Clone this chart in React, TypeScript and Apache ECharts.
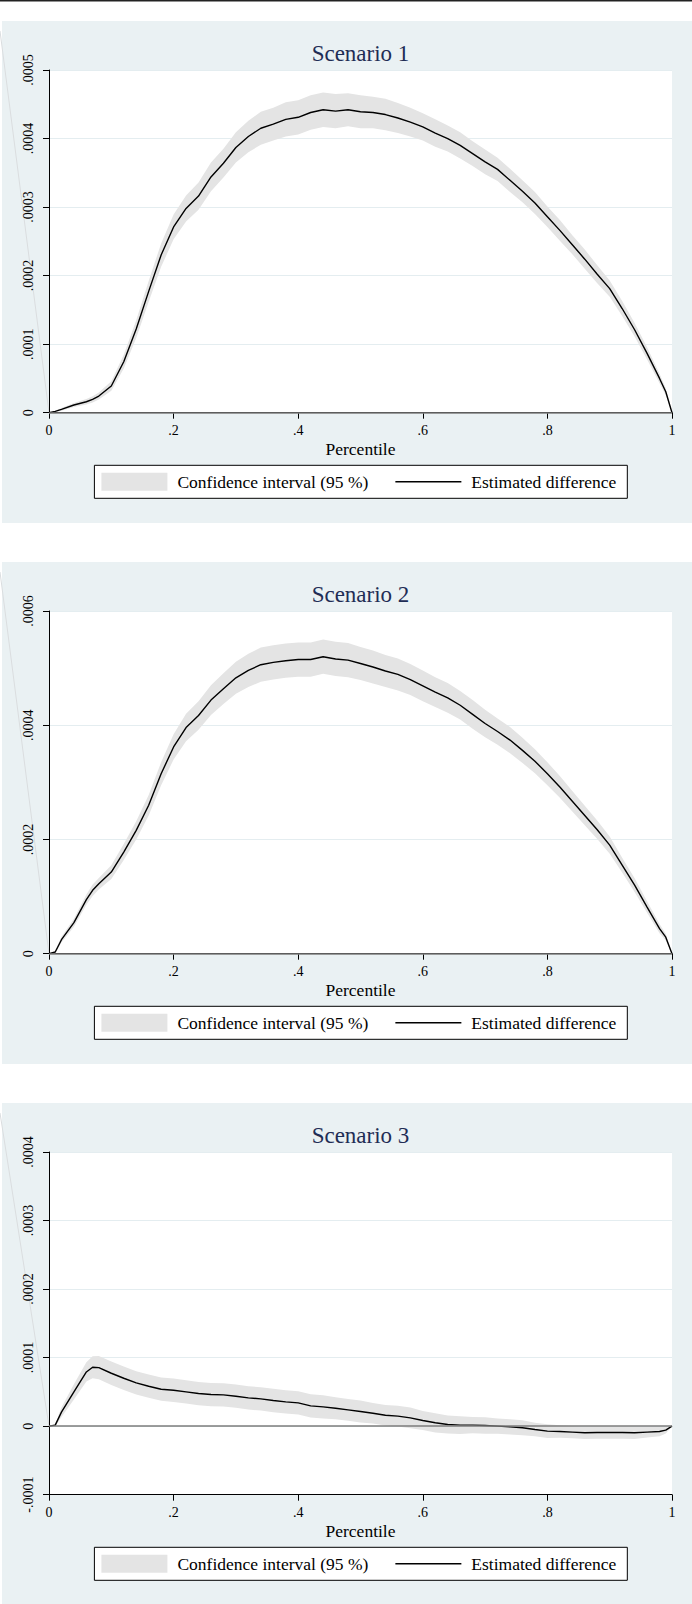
import React, { useEffect, useRef } from 'react';
import * as echarts from 'echarts';

// ---------- data ----------
const percentile = [
  0, 0.01, 0.02, 0.04, 0.06, 0.07, 0.08, 0.1, 0.12, 0.14, 0.16, 0.18, 0.2, 0.22, 0.24, 0.26, 0.28, 0.3,
  0.32, 0.34, 0.36, 0.38, 0.4, 0.42, 0.44, 0.46, 0.48, 0.5, 0.52, 0.54, 0.56, 0.58, 0.6, 0.62, 0.64,
  0.66, 0.68, 0.7, 0.72, 0.74, 0.76, 0.78, 0.8, 0.82, 0.84, 0.86, 0.88, 0.9, 0.92, 0.94, 0.96, 0.98,
  0.99, 1,
];

const scenario1Estimate = [
  0, 2e-6, 4.9e-6, 1.12e-5, 1.6e-5, 1.95e-5, 2.43e-5, 3.89e-5, 7.44e-5, 1.22e-4, 1.77e-4, 2.3e-4,
  2.71e-4, 2.98e-4, 3.16e-4, 3.44e-4, 3.64e-4, 3.87e-4, 4.03e-4, 4.15e-4, 4.21e-4, 4.28e-4, 4.31e-4,
  4.38e-4, 4.42e-4, 4.4e-4, 4.42e-4, 4.39e-4, 4.38e-4, 4.35e-4, 4.3e-4, 4.24e-4, 4.17e-4, 4.08e-4,
  4.0e-4, 3.9e-4, 3.78e-4, 3.66e-4, 3.55e-4, 3.39e-4, 3.23e-4, 3.06e-4, 2.86e-4, 2.66e-4, 2.45e-4,
  2.24e-4, 2.02e-4, 1.81e-4, 1.52e-4, 1.21e-4, 8.66e-5, 5.0e-5, 3.06e-5, 0,
];
const scenario1HalfWidth = [
  0, 1e-6, 2e-6, 3e-6, 4e-6, 4.5e-6, 5e-6, 7e-6, 1e-5, 1.3e-5, 1.5e-5, 1.7e-5, 1.8e-5, 1.9e-5, 2.0e-5,
  2.1e-5, 2.1e-5, 2.2e-5, 2.3e-5, 2.4e-5, 2.4e-5, 2.5e-5, 2.5e-5, 2.5e-5, 2.5e-5, 2.5e-5, 2.4e-5,
  2.4e-5, 2.3e-5, 2.3e-5, 2.2e-5, 2.1e-5, 2.0e-5, 2.0e-5, 1.9e-5, 1.9e-5, 1.8e-5, 1.8e-5, 1.7e-5,
  1.7e-5, 1.6e-5, 1.6e-5, 1.5e-5, 1.5e-5, 1.4e-5, 1.4e-5, 1.3e-5, 1.2e-5, 1.1e-5, 1.0e-5, 9e-6, 7e-6,
  5e-6, 0,
];

const scenario2Estimate = [
  0, 3e-6, 2.45e-5, 5.43e-5, 9.46e-5, 1.11e-4, 1.226e-4, 1.43e-4, 1.78e-4, 2.16e-4, 2.6e-4, 3.15e-4,
  3.62e-4, 3.96e-4, 4.17e-4, 4.44e-4, 4.64e-4, 4.83e-4, 4.96e-4, 5.06e-4, 5.1e-4, 5.13e-4, 5.15e-4,
  5.15e-4, 5.2e-4, 5.16e-4, 5.14e-4, 5.08e-4, 5.02e-4, 4.95e-4, 4.89e-4, 4.8e-4, 4.69e-4, 4.58e-4,
  4.48e-4, 4.35e-4, 4.19e-4, 4.03e-4, 3.89e-4, 3.74e-4, 3.56e-4, 3.37e-4, 3.15e-4, 2.92e-4, 2.67e-4,
  2.42e-4, 2.17e-4, 1.9e-4, 1.55e-4, 1.2e-4, 8.17e-5, 4.38e-5, 2.9e-5, 0,
];
const scenario2HalfWidth = [
  0, 2e-6, 5e-6, 7e-6, 9e-6, 1e-5, 1e-5, 1.2e-5, 1.4e-5, 1.6e-5, 1.8e-5, 2e-5, 2.2e-5, 2.4e-5, 2.5e-5,
  2.6e-5, 2.7e-5, 2.8e-5, 2.9e-5, 3e-5, 3e-5, 3e-5, 3e-5, 3e-5, 3e-5, 3e-5, 3e-5, 2.9e-5, 2.9e-5,
  2.8e-5, 2.8e-5, 2.7e-5, 2.7e-5, 2.6e-5, 2.6e-5, 2.5e-5, 2.5e-5, 2.4e-5, 2.3e-5, 2.3e-5, 2.2e-5,
  2.1e-5, 2.0e-5, 1.9e-5, 1.8e-5, 1.7e-5, 1.6e-5, 1.5e-5, 1.3e-5, 1.2e-5, 1e-5, 8e-6, 6e-6, 0,
];

const scenario3Estimate = [
  0, 1.5e-6, 2.04e-5, 5.0e-5, 7.91e-5, 8.59e-5, 8.54e-5, 7.72e-5, 6.99e-5, 6.31e-5, 5.83e-5, 5.39e-5,
  5.24e-5, 5.0e-5, 4.76e-5, 4.61e-5, 4.56e-5, 4.37e-5, 4.13e-5, 3.98e-5, 3.74e-5, 3.54e-5, 3.4e-5,
  2.96e-5, 2.82e-5, 2.62e-5, 2.38e-5, 2.14e-5, 1.89e-5, 1.6e-5, 1.46e-5, 1.21e-5, 8.3e-6, 4.9e-6,
  2.4e-6, 1.5e-6, 1.5e-6, 1.0e-6, 0, -1.0e-6, -2.4e-6, -4.9e-6, -7.3e-6, -7.8e-6, -8.7e-6, -9.7e-6,
  -9.2e-6, -9.2e-6, -9.2e-6, -9.7e-6, -8.7e-6, -7.8e-6, -5.8e-6, 0,
];
const scenario3HalfWidth = [
  0, 2e-6, 7e-6, 1.1e-5, 1.4e-5, 1.6e-5, 1.7e-5, 1.7e-5, 1.7e-5, 1.7e-5, 1.7e-5, 1.7e-5, 1.7e-5,
  1.7e-5, 1.7e-5, 1.7e-5, 1.7e-5, 1.7e-5, 1.7e-5, 1.7e-5, 1.7e-5, 1.7e-5, 1.7e-5, 1.7e-5, 1.7e-5,
  1.6e-5, 1.6e-5, 1.6e-5, 1.5e-5, 1.5e-5, 1.5e-5, 1.5e-5, 1.4e-5, 1.4e-5, 1.3e-5, 1.3e-5, 1.2e-5,
  1.2e-5, 1.1e-5, 1.1e-5, 1.1e-5, 1e-5, 1e-5, 9e-6, 9e-6, 9e-6, 9e-6, 9e-6, 9e-6, 9e-6, 8e-6, 7e-6,
  5e-6, 0,
];

const xTickLabels = ['0', '.2', '.4', '.6', '.8', '1'];
const scenario1YTickLabels = ['0', '.0001', '.0002', '.0003', '.0004', '.0005'];
const scenario2YTickLabels = ['0', '.0002', '.0004', '.0006'];
const scenario3YTickLabels = ['-.0001', '0', '.0001', '.0002', '.0003', '.0004'];

const panelTitles = ['Scenario 1', 'Scenario 2', 'Scenario 3'];
const ciName = 'Confidence interval (95 %)';
const estName = 'Estimated difference';
const xAxisTitle = 'Percentile';

// ---------- layout / style ----------
const W = 692;
const H = 1604;
const FONT = '"Liberation Serif", "Times New Roman", serif';
const PANEL_TOPS = [21, 562, 1103];
const PANEL_H = [502, 502, 501];
const GRID_LEFT = 49;
const GRID_RIGHT_X = 672;
const GRID_H = 342.7;
const BG = '#eaf1f3';
const BAND = '#e4e4e4';

const panels = [
  { est: scenario1Estimate, hw: scenario1HalfWidth, yLabels: scenario1YTickLabels, min: 0, max: 0.0005, interval: 0.0001 },
  { est: scenario2Estimate, hw: scenario2HalfWidth, yLabels: scenario2YTickLabels, min: 0, max: 0.0006, interval: 0.0002 },
  { est: scenario3Estimate, hw: scenario3HalfWidth, yLabels: scenario3YTickLabels, min: -0.0001, max: 0.0004, interval: 0.0001 },
];

function buildOption() {
  const grid: any[] = [];
  const xAxis: any[] = [];
  const yAxis: any[] = [];
  const series: any[] = [];
  const title: any[] = [];
  const legend: any[] = [];
  const graphics: any[] = [
    { type: 'rect', z: -10, shape: { x: 0, y: 0, width: W, height: 1.5 }, style: { fill: '#222' } },
  ];

  panels.forEach((pn, i) => {
    const pTop = PANEL_TOPS[i];
    const gTop = pTop + 49;
    const gBottom = gTop + GRID_H;
    const zeroY = gTop + GRID_H * (pn.max / (pn.max - pn.min));

    graphics.push({
      type: 'rect', z: -10,
      shape: { x: 2, y: pTop, width: W - 2, height: PANEL_H[i] },
      style: { fill: BG },
    });
    graphics.push({
      type: 'line', z: -9,
      shape: { x1: 0, y1: pTop + 10, x2: GRID_LEFT, y2: zeroY },
      style: { stroke: '#dadddf', lineWidth: 1 },
    });

    grid.push({
      left: GRID_LEFT, top: gTop, width: GRID_RIGHT_X - GRID_LEFT, height: GRID_H,
      show: true, backgroundColor: '#ffffff', borderWidth: 0, containLabel: false,
      outerBoundsMode: 'none',
    });

    xAxis.push({
      type: 'value', gridIndex: i, min: 0, max: 1, interval: 0.2,
      axisLine: { show: true, onZero: false, lineStyle: { color: '#000', width: 1 } },
      axisTick: { show: true, length: 6, lineStyle: { color: '#000' } },
      splitLine: { show: false },
      axisLabel: {
        margin: 11, fontFamily: FONT, fontSize: 14, color: '#000',
        formatter: (v: number) => xTickLabels[Math.round(v / 0.2)],
      },
      name: xAxisTitle, nameLocation: 'middle', nameGap: 27,
      nameTextStyle: { fontFamily: FONT, fontSize: 17.5, color: '#000' },
    });

    yAxis.push({
      type: 'value', gridIndex: i, min: pn.min, max: pn.max, interval: pn.interval,
      axisLine: { show: true, lineStyle: { color: '#000', width: 1 } },
      axisTick: { show: true, length: 6, lineStyle: { color: '#000' } },
      splitLine: { show: true, lineStyle: { color: '#e4edf0', width: 1 } },
      axisLabel: {
        rotate: 90, margin: 14, fontFamily: FONT, fontSize: 14, color: '#000',
        formatter: (v: number) => pn.yLabels[Math.round((v - pn.min) / pn.interval)],
      },
    });

    // confidence band: one polygon through the library's coordinate system
    series.push({
      type: 'custom', name: ciName, xAxisIndex: i, yAxisIndex: i,
      data: percentile.map((p, k) => [p, pn.est[k] - pn.hw[k], pn.est[k] + pn.hw[k]]),
      encode: { x: 0, y: [1, 2] },
      itemStyle: { color: BAND }, silent: true, z: 1,
      renderItem: (params: any, api: any) => {
        if (params.dataIndex !== 0) return null;
        const upper = percentile.map((p, k) => api.coord([p, pn.est[k] + pn.hw[k]]));
        const lower = percentile.map((p, k) => api.coord([p, pn.est[k] - pn.hw[k]])).reverse();
        return {
          type: 'polygon', silent: true,
          shape: { points: upper.concat(lower) },
          style: { fill: BAND, stroke: 'none' },
        };
      },
    });
    series.push({
      type: 'line', name: estName, xAxisIndex: i, yAxisIndex: i,
      data: percentile.map((p, k) => [p, pn.est[k]]),
      symbol: 'none', silent: true,
      lineStyle: { color: '#000', width: 1.4 },
      itemStyle: { color: '#000' }, z: 3,
      markLine: {
        silent: true, symbol: 'none', label: { show: false },
        lineStyle: { color: '#7d7d7d', width: 1.5, type: 'solid' },
        data: [{ yAxis: 0 }],
      },
    });

    title.push({
      text: panelTitles[i], left: (GRID_LEFT + GRID_RIGHT_X) / 2, top: pTop + 21, textAlign: 'center',
      padding: 0,
      textStyle: { fontFamily: FONT, fontSize: 23, fontWeight: 'normal', color: '#1f2d55' },
    });

    legend.push({
      left: 94.4, top: gBottom + 52.6, orient: 'horizontal',
      padding: [7.5, 11, 7.5, 7], itemGap: 27, itemWidth: 66, itemHeight: 18,
      borderColor: '#000', borderWidth: 1, backgroundColor: '#fff', borderRadius: 0,
      selectedMode: false, symbolKeepAspect: true,
      textStyle: { fontFamily: FONT, fontSize: 17.5, color: '#000', padding: [0, 0, 0, 5] },
      data: [
        { name: ciName, icon: 'rect', itemStyle: { color: BAND } },
        { name: estName, icon: 'path://M0,0H64V1.4H0Z', itemStyle: { color: '#000' } },
      ],
    });
  });

  return {
    animation: false,
    backgroundColor: '#ffffff',
    textStyle: { fontFamily: FONT },
    title, legend, grid, xAxis, yAxis, series,
    graphic: { elements: graphics },
  };
}

export default function App() {
  const ref = useRef<HTMLDivElement>(null);
  useEffect(() => {
    document.body.style.margin = '0';
    if (!ref.current) return;
    const chart = echarts.init(ref.current, undefined, { renderer: 'svg', width: W, height: H });
    chart.setOption(buildOption() as any);
    return () => chart.dispose();
  }, []);
  return <div ref={ref} style={{ width: W, height: H }} />;
}
